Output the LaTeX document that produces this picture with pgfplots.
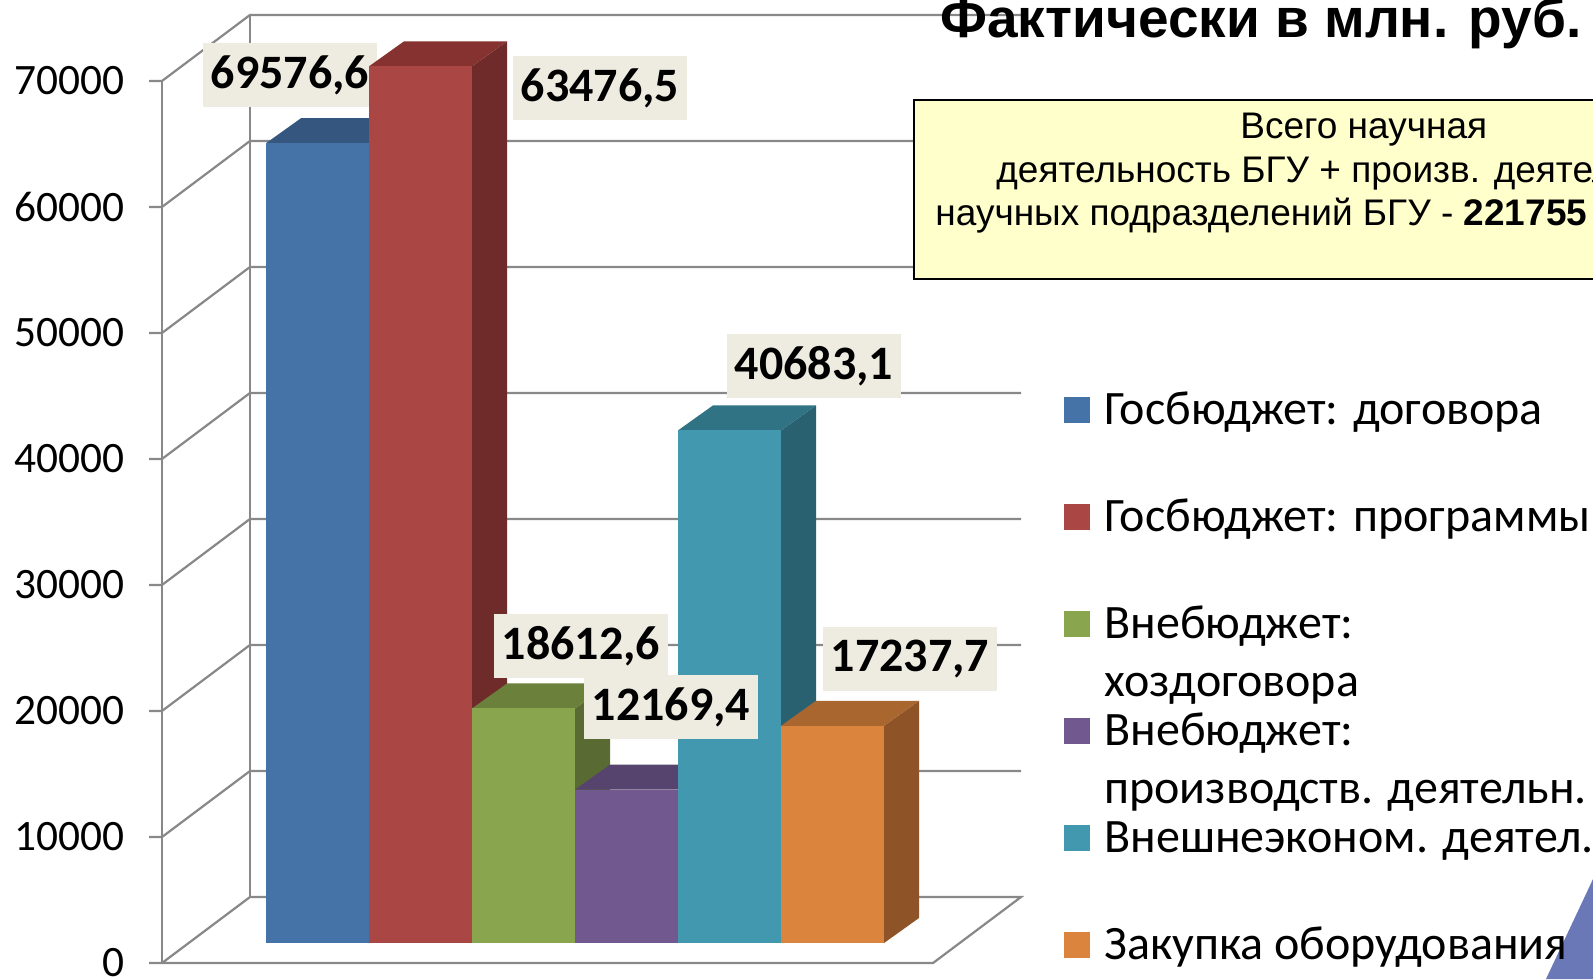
\documentclass[border=0pt]{standalone}
\usepackage{pgfplots}
\pgfplotsset{compat=1.18}
\usepackage{fontspec}
\setmainfont{Carlito}
\newfontfamily\arialf{Liberation Sans}

\definecolor{gridc}{HTML}{888888}
\definecolor{bF}{HTML}{4572A7}\definecolor{bS}{HTML}{2D4C72}\definecolor{bT}{HTML}{35577F}
\definecolor{rF}{HTML}{AA4643}\definecolor{rS}{HTML}{6E2B2A}\definecolor{rT}{HTML}{853231}
\definecolor{gF}{HTML}{89A54E}\definecolor{gS}{HTML}{596B33}\definecolor{gT}{HTML}{6A803B}
\definecolor{pF}{HTML}{71588F}\definecolor{pS}{HTML}{4A3A5E}\definecolor{pT}{HTML}{57446E}
\definecolor{tF}{HTML}{4198AF}\definecolor{tS}{HTML}{2A6171}\definecolor{tT}{HTML}{307385}
\definecolor{oF}{HTML}{DB843D}\definecolor{oS}{HTML}{8E5428}\definecolor{oT}{HTML}{A9662F}
\definecolor{lblbg}{HTML}{EEECE1}
\definecolor{boxy}{HTML}{FFFFCC}
\definecolor{tri}{HTML}{6B78B8}

\pgfplotsset{sqleg/.style={legend image code/.code={\fill[##1] (0pt,1pt) rectangle (13.2pt,14.2pt);}}}
\tikzset{lbl/.style={fill=lblbg, font=\bfseries\fontsize{24pt}{24pt}\selectfont, minimum width=87pt, minimum height=32pt, inner sep=0pt, anchor=center}}

% #1 index, #2 value, #3 front, #4 side, #5 top, #6 legend text
\newcommand\tdbar[6]{%
 \edef\doplots{%
  \noexpand\addplot[fill=#4,draw=none,forget plot] coordinates {(\fpeval{369+103*#1},1587) (\fpeval{404+103*#1},3571) (\fpeval{404+103*#1},\fpeval{3571+#2}) (\fpeval{369+103*#1},\fpeval{1587+#2})} -- cycle;%
  \noexpand\addplot[fill=#5,draw=none,forget plot] coordinates {(\fpeval{266+103*#1},\fpeval{1587+#2}) (\fpeval{301+103*#1},\fpeval{3571+#2}) (\fpeval{404+103*#1},\fpeval{3571+#2}) (\fpeval{369+103*#1},\fpeval{1587+#2})} -- cycle;%
  \noexpand\addplot[fill=#3,draw=none,sqleg] coordinates {(\fpeval{266+103*#1},1587) (\fpeval{369+103*#1},1587) (\fpeval{369+103*#1},\fpeval{1587+#2}) (\fpeval{266+103*#1},\fpeval{1587+#2})} -- cycle;%
 }%
 \doplots
 \addlegendentry{#6}%
}

\begin{document}
\begin{tikzpicture}
\begin{axis}[
 scale only axis, width=796.5pt, height=489.5pt,
 xmin=0, xmax=1593, ymin=-1269.8, ymax=76428.6,
 clip=false,
 axis line style={draw=none},
 tick style={draw=none},
 xtick=\empty,
 ytick={0,10000,20000,30000,40000,50000,60000,70000},
 scaled y ticks=false,
 yticklabel style={font=\fontsize{21.7pt}{22pt}\selectfont, anchor=east, inner sep=0pt, xshift=62.5pt,
   /pgf/number format/1000 sep={}, /pgf/number format/assume math mode=true},
 legend style={at={(axis cs:1064,45556)}, anchor=north west, draw=none, fill=none,
   inner sep=0pt, outer sep=0pt, row sep=30.5pt, column sep=7pt,
   font=\fontsize{24pt}{24pt}\selectfont,
   cells={anchor=base west},
   nodes={inner sep=0pt, text height=18pt, text depth=5pt}},
]
% walls and floor
\addplot[gridc, line width=1.1pt, forget plot] coordinates {(162,0) (162,70000)};
\addplot[gridc, line width=1.1pt, forget plot] coordinates {(250,5238) (250,75238)};
\addplot[gridc, line width=1.1pt, forget plot] coordinates {(149,0) (933,0) (1021,5238) (250,5238) (162,0)};
\addplot[gridc, line width=1.1pt, forget plot] coordinates {(149,10000) (162,10000) (250,15238) (1021,15238)};
\addplot[gridc, line width=1.1pt, forget plot] coordinates {(149,20000) (162,20000) (250,25238) (1021,25238)};
\addplot[gridc, line width=1.1pt, forget plot] coordinates {(149,30000) (162,30000) (250,35238) (1021,35238)};
\addplot[gridc, line width=1.1pt, forget plot] coordinates {(149,40000) (162,40000) (250,45238) (1021,45238)};
\addplot[gridc, line width=1.1pt, forget plot] coordinates {(149,50000) (162,50000) (250,55238) (1021,55238)};
\addplot[gridc, line width=1.1pt, forget plot] coordinates {(149,60000) (162,60000) (250,65238) (1021,65238)};
\addplot[gridc, line width=1.1pt, forget plot] coordinates {(149,70000) (162,70000) (250,75238) (1021,75238)};

% bars
\tdbar{0}{63476.5}{bF}{bS}{bT}{Госбюджет: договора}
\node[lbl] at (290,70476) {69576,6};
\tdbar{1}{69576.6}{rF}{rS}{rT}{Госбюджет: программы}
\tdbar{2}{18612.6}{gF}{gS}{gT}{\makebox[0pt][l]{\raisebox{-29pt}[0pt][0pt]{хоздоговора}}Внебюджет:}
\tdbar{3}{12169.4}{pF}{pS}{pT}{\makebox[0pt][l]{\raisebox{-29pt}[0pt][0pt]{производств. деятельн.}}Внебюджет:}
\tdbar{4}{40683.1}{tF}{tS}{tT}{Внешнеэконом. деятел.}
\tdbar{5}{17237.7}{oF}{oS}{oT}{Закупка оборудования}

% data labels
\node[lbl] at (600,69444) {63476,5};
\node[lbl] at (581,25159) {18612,6};
\node[lbl] at (671,20317) {12169,4};
\node[lbl] at (814,47381) {40683,1};
\node[lbl] at (910,24127) {17237,7};

% title and note box
\node[anchor=base west, inner sep=0pt, font=\arialf\bfseries\fontsize{27.5pt}{30pt}\selectfont] at (940,73444) {Фактически в млн. руб.};
\draw[line width=1.2pt, fill=boxy] (914,68492) rectangle (1700,54286);
\node[anchor=base west, inner sep=0pt, font=\arialf\fontsize{18.5pt}{22pt}\selectfont] at (1240,65397) {Всего научная};
\node[anchor=base west, inner sep=0pt, font=\arialf\fontsize{18.5pt}{22pt}\selectfont] at (996,61905) {деятельность БГУ + произв. деятельности};
\node[anchor=base west, inner sep=0pt, font=\arialf\fontsize{18.5pt}{22pt}\selectfont] at (935,58492) {научных подразделений БГУ - \textbf{221755}};

% decorative triangle
\fill[tri] (1593,6667) -- (1546,-1269.8) -- (1593,-1269.8) -- cycle;

\coordinate (BL) at (0,-1269.8);
\coordinate (TR) at (1593,76428.6);
\end{axis}
\pgfresetboundingbox
\path[use as bounding box] (BL) rectangle (TR);
\end{tikzpicture}
\end{document}
